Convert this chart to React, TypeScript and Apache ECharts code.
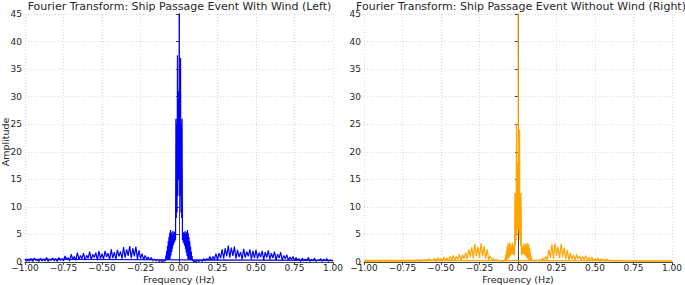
import React, { useEffect, useRef } from "react";
import * as echarts from "echarts";

// Left (with wind): outer negative band, f = -1.00 .. -0.10 step 0.01
const windNeg = [
  0.5, 0.1, 0.4, 0.2, 0.6, 0.1, 0.7, 0.3, 0.4, 0.1, 0.6, 0.2, 0.5, 0.2, 0.8, 0.1, 0.5, 0.3, 0.7, 0.2, 0.6, 0.1, 0.8, 0.3, 0.6,
  0.2, 1.1, 0.4, 0.8, 0.2, 1.4, 0.5, 1.0, 0.3, 1.7, 0.4, 1.2, 0.6,
  1.6, 0.3, 1.2, 0.7, 1.9, 0.4, 1.4, 0.8, 1.7, 0.3, 2.0, 0.6, 1.5,
  0.5, 2.0, 0.9, 1.6, 0.4, 2.3, 0.7, 1.8, 0.5, 2.2, 1.0, 1.9, 0.6,
  2.7, 0.8, 2.3, 1.1, 2.9, 0.7, 2.5, 1.0, 2.8, 0.5, 2.1,
  0.6, 1.5, 0.4, 1.2, 0.5, 0.9, 0.3, 0.8, 0.2, 0.5, 0.2, 0.4, 0.1, 0.3, 0.1, 0.2,
];
// Left centre, f = -0.10 .. 0.10 step 0.0025
const windCenter = [
  0.2, 0.1, 0.3, 0.1, 0.4,
  0.2, 1.2, 0.3, 2.0, 0.4, 2.9, 0.3, 3.8,
  0.5, 4.6, 0.4, 5.3, 0.6, 5.8,
  1.2, 5.4, 1.8, 5.0, 2.4, 5.6,
  3.0, 5.2, 3.4, 5.5, 3.7, 5.0, 4.0,
  26, 8, 25, 9,
  37.5, 12, 31, 15,
  60,
  15, 30, 12, 37,
  9, 25, 8, 26,
  4.0, 5.1, 3.6, 5.4, 3.3, 5.3, 2.9,
  5.6, 2.3, 5.1, 1.7, 5.5, 1.1,
  5.8, 0.6, 5.2, 0.4, 4.5, 0.5,
  3.7, 0.3, 2.8, 0.4, 1.9, 0.3, 1.1, 0.2,
  0.4, 0.1, 0.3, 0.1, 0.2,
];
// Left outer positive band, f = 0.10 .. 1.00 step 0.01
const windPos = [
  0.2, 0.1, 0.3, 0.1, 0.4, 0.1, 0.6, 0.2, 0.6, 0.3, 1.0, 0.3, 1.0, 0.5, 1.5, 0.4,
  1.6, 0.7, 2.3, 0.6, 2.5, 1.0, 3.0, 0.8, 2.6, 1.1, 2.8,
  0.6, 2.2, 0.9, 1.8, 0.5, 2.4, 0.8, 1.9, 1.0, 2.3, 0.5, 2.0, 0.7,
  2.2, 0.6, 1.7, 0.9, 2.0, 0.4, 1.8, 0.8, 2.1, 0.5, 1.6, 0.7, 1.9,
  0.4, 1.4, 0.7, 1.8, 0.3, 1.2, 0.6, 1.3, 0.3, 0.9, 0.5, 1.0, 0.2,
  0.8, 0.3, 0.6, 0.1, 0.7, 0.2, 0.5, 0.3, 0.8, 0.1, 0.5, 0.2, 0.7, 0.1, 0.4, 0.3, 0.6, 0.1, 0.5, 0.2, 0.6, 0.1, 0.4, 0.2, 0.3,
];

// Right (without wind)
const calmNeg = [
  0.3, 0.1, 0.2, 0.05, 0.3, 0.1, 0.25, 0.05, 0.3, 0.1, 0.2, 0.05, 0.3, 0.1, 0.25, 0.05, 0.3, 0.1, 0.3, 0.05,
  0.25, 0.1, 0.3, 0.05, 0.3, 0.1, 0.35, 0.05, 0.3, 0.1, 0.4, 0.1, 0.3, 0.05, 0.4, 0.1, 0.35, 0.1, 0.45, 0.1,
  0.5, 0.1, 0.6, 0.2, 0.4, 0.2, 0.7, 0.1, 0.8, 0.3, 0.6, 0.2, 0.9, 0.3, 0.7,
  0.2, 1.0, 0.4, 1.2, 0.3, 1.0, 0.5, 1.4, 0.3, 1.3, 0.6, 1.7,
  0.5, 2.3, 0.9, 2.7, 0.6, 3.3, 1.1, 2.8, 0.7, 3.4, 1.0, 2.9, 0.6, 2.3, 0.4,
  1.1, 0.3, 0.6, 0.2, 0.5, 0.1, 0.4, 0.1, 0.3,
];
const calmCenter = [
  0.2, 0.1, 0.3, 0.1, 0.4, 0.1, 0.6,
  0.2, 1.3, 0.3, 2.1, 0.4, 2.9,
  0.5, 3.4, 0.6, 2.6, 0.8, 3.6, 1.0, 2.7, 1.2, 3.3,
  1.4, 2.4, 1.5, 3.5, 1.3, 2.8, 1.6, 3.1,
  1.2,
  12.5, 3, 11, 4,
  25, 5, 18, 6,
  60,
  6, 17, 5, 24,
  4, 11.5, 3, 12.5,
  1.2,
  3.1, 1.6, 2.7, 1.4, 3.0, 1.5, 3.4, 1.3,
  2.5, 1.2, 3.3, 1.0, 2.9, 0.8, 3.5, 0.6, 2.6, 0.5,
  3.3, 0.4, 2.6, 0.3, 1.9, 0.2,
  1.1, 0.2, 0.5, 0.1, 0.4, 0.1, 0.2,
];
const calmPos = [
  0.3, 0.1, 0.4, 0.1, 0.5, 0.2, 0.7, 0.2, 1.0,
  0.4, 2.3, 0.8, 3.2, 0.6, 3.4, 1.1, 2.8, 0.7, 3.3, 0.9, 2.6, 0.5, 2.2, 0.4,
  1.6, 0.5, 1.3, 0.3, 1.4, 0.6, 1.1, 0.3, 1.0, 0.4, 1.2, 0.2,
  0.8, 0.3, 0.9, 0.1, 0.6, 0.3, 0.7, 0.1, 0.6, 0.2, 0.5, 0.1, 0.6, 0.1, 0.4,
  0.1, 0.4, 0.05, 0.35, 0.1, 0.3, 0.05, 0.3, 0.1, 0.3, 0.05, 0.25, 0.1, 0.3, 0.05, 0.3, 0.1, 0.25, 0.05, 0.3,
  0.1, 0.2, 0.05, 0.3, 0.1, 0.25, 0.05, 0.3, 0.1, 0.2, 0.05, 0.3, 0.1, 0.25, 0.05, 0.2, 0.1, 0.3, 0.05, 0.2,
];

const xTicks = [-1, -0.75, -0.5, -0.25, 0, 0.25, 0.5, 0.75, 1];
const titles = [
  "Fourier Transform: Ship Passage Event With Wind (Left)",
  "Fourier Transform: Ship Passage Event Without Wind (Right)",
];
const yName = "Amplitude";
const xName = "Frequency (Hz)";

// FFT bin order (as returned by fftfreq): 0 .. +1, then -1 .. just below 0
function build(neg: number[], center: number[], pos: number[]) {
  const pts: [number, number][] = [];
  neg.forEach((v, i) => pts.push([+(-1 + i * 0.01).toFixed(4), v]));
  center.forEach((v, i) => pts.push([+(-0.1 + i * 0.0025).toFixed(4), v]));
  pos.forEach((v, i) => pts.push([+(0.1 + i * 0.01).toFixed(4), v]));
  const nonNeg = pts.filter((p) => p[0] >= 0);
  const negative = pts.filter((p) => p[0] < 0);
  return [...nonNeg, ...negative];
}

const FONT = "DejaVu Sans";
const TXT = "#262626";
const GRID_LEFT = [25, 364];
const GRID_W = 308;
const TITLE_X = [179.5, 521];

function xAxis(gridIndex: number) {
  return {
    type: "value",
    gridIndex,
    min: xTicks[0],
    max: xTicks[xTicks.length - 1],
    interval: 0.25,
    axisLine: { show: true, onZero: false, lineStyle: { color: "#444", width: 1 } },
    axisTick: { show: true, length: 3, lineStyle: { color: "#444" } },
    axisLabel: {
      fontSize: 9,
      color: TXT,
      fontFamily: FONT,
      margin: 1,
      formatter: (v: number) => v.toFixed(2).replace("-", "\u2212"),
    },
    splitLine: { show: true, lineStyle: { color: "#cfcfcf", type: [1, 2], width: 0.8 } },
  };
}

function yAxis(gridIndex: number) {
  return {
    type: "value",
    gridIndex,
    min: 0,
    max: 45,
    interval: 5,
    axisLine: { show: true, lineStyle: { color: "#444", width: 1 } },
    axisTick: { show: true, length: 3, lineStyle: { color: "#444" } },
    axisLabel: { fontSize: 9, color: TXT, fontFamily: FONT, margin: 3 },
    splitLine: { show: true, lineStyle: { color: "#cfcfcf", type: [1, 2], width: 0.8 } },
  };
}

export default function App() {
  const ref = useRef<HTMLDivElement>(null);
  useEffect(() => {
    if (!ref.current) return;
    const chart = echarts.init(ref.current, undefined, { renderer: "svg" });
    chart.setOption({
      animation: false,
      backgroundColor: "#fff",
      textStyle: { fontFamily: FONT },
      grid: [
        { left: GRID_LEFT[0], top: 14, width: GRID_W, height: 248, containLabel: false, outerBoundsMode: "none" },
        { left: GRID_LEFT[1], top: 14, width: GRID_W, height: 248, containLabel: false, outerBoundsMode: "none" },
      ],
      xAxis: [xAxis(0), xAxis(1)],
      yAxis: [yAxis(0), yAxis(1)],
      graphic: [
        ...titles.map((t, i) => ({
          type: "text",
          x: TITLE_X[i],
          y: 6.5,
          silent: true,
          z: 100,
          style: { text: t, fontSize: 11, fill: TXT, fontFamily: FONT, align: "center", verticalAlign: "middle" },
        })),
        ...GRID_LEFT.map((l) => ({
          type: "text",
          x: l + GRID_W / 2,
          y: 279.5,
          silent: true,
          z: 100,
          style: { text: xName, fontSize: 9.5, fill: TXT, fontFamily: FONT, align: "center", verticalAlign: "middle" },
        })),
        {
          type: "text",
          x: 5,
          y: 142,
          rotation: Math.PI / 2,
          silent: true,
          z: 100,
          style: { text: yName, fontSize: 9.5, fill: TXT, fontFamily: FONT, align: "center", verticalAlign: "middle" },
        },
      ],
      series: [
        {
          type: "line",
          xAxisIndex: 0,
          yAxisIndex: 0,
          data: build(windNeg, windCenter, windPos),
          showSymbol: false,
          symbol: "none",
          clip: true,
          lineStyle: { color: "#0000ff", width: 1.2 },
        },
        {
          type: "line",
          xAxisIndex: 1,
          yAxisIndex: 1,
          data: build(calmNeg, calmCenter, calmPos),
          showSymbol: false,
          symbol: "none",
          clip: true,
          lineStyle: { color: "#ffa500", width: 1.2 },
        },
      ],
    });
    return () => chart.dispose();
  }, []);
  return <div ref={ref} style={{ position: "absolute", left: 0, top: 0, width: 685, height: 285 }} />;
}
